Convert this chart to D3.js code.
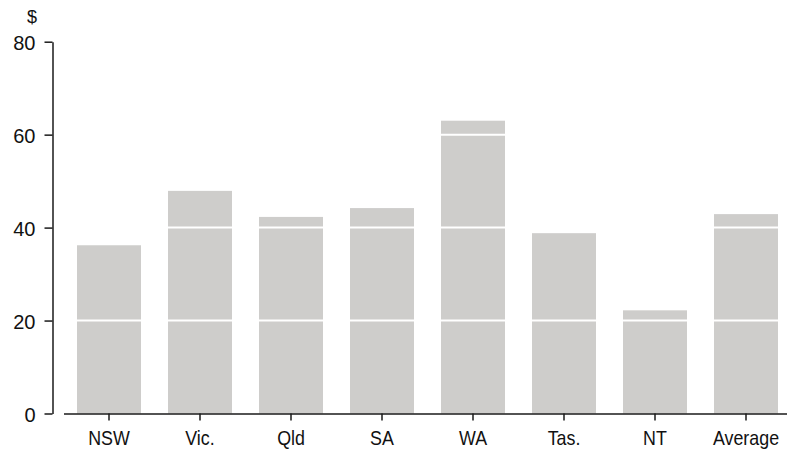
<!DOCTYPE html>
<html><head><meta charset="utf-8">
<script src="https://cdn.jsdelivr.net/npm/d3@7"></script>
<style>
body{margin:0;background:#fff}
.ylab{font-family:"Liberation Sans",Arial,Helvetica,sans-serif;font-size:20px;fill:#111}
.xlab{font-family:"Liberation Sans",Arial,Helvetica,sans-serif;font-size:21px;fill:#111}
</style>
</head><body>
<svg id="c" width="787" height="449"></svg>
<script>
const categories = ["NSW","Vic.","Qld","SA","WA","Tas.","NT","Average"];
const values = [36.2, 47.9, 42.3, 44.2, 63.0, 38.8, 22.2, 42.9];
const yTicks = [0, 20, 40, 60, 80];
const gridTicks = [20, 40, 60];
const unitLabel = "$";

const svg = d3.select("#c");
const x = d3.scaleBand().domain(categories).range([63.5, 791.5])
  .paddingInner(27/91).paddingOuter(13.5/91);
const y = d3.scaleLinear().domain([0, 80]).range([413.5, 41.7]);

svg.append("g").selectAll("rect").data(values).join("rect")
  .attr("x", (d,i) => x(categories[i]))
  .attr("width", x.bandwidth())
  .attr("y", d => y(d))
  .attr("height", d => y(0) - y(d))
  .attr("fill", "#cecdcb");

svg.append("g").selectAll("line").data(gridTicks).join("line")
  .attr("x1", 63.5).attr("x2", 787)
  .attr("y1", d => y(d)).attr("y2", d => y(d))
  .attr("stroke", "#fff").attr("stroke-width", 2);

// y axis
const ya = svg.append("g").attr("transform", "translate(52.5,0)")
  .call(d3.axisLeft(y).tickValues(yTicks).tickSize(8).tickPadding(9).tickSizeOuter(0));
ya.attr("font-family", null).attr("font-size", null);
ya.select(".domain").attr("stroke", "#1a1a1a").attr("stroke-width", 1.5);
ya.selectAll(".tick line").attr("stroke", "#1a1a1a").attr("stroke-width", 1.5);
ya.selectAll(".tick text").attr("class", "ylab").attr("fill", null).attr("dy", "0.4em");

svg.append("text").attr("class", "ylab").attr("x", 32).attr("y", 23)
  .attr("text-anchor", "middle").style("font-size", "18px").text(unitLabel);

// x axis
const xa = svg.append("g").attr("transform", "translate(0,413.5)")
  .call(d3.axisBottom(x).tickSize(7).tickSizeOuter(0));
xa.attr("font-family", null).attr("font-size", null);
xa.select(".domain").attr("stroke", "#1a1a1a").attr("stroke-width", 1.5);
xa.selectAll(".tick line").attr("stroke", "#1a1a1a").attr("stroke-width", 1.5);
xa.selectAll(".tick text").attr("class", "xlab").attr("fill", null)
  .attr("y", 32).attr("dy", null).attr("transform", "scale(0.85,1)");
</script>
</body></html>
